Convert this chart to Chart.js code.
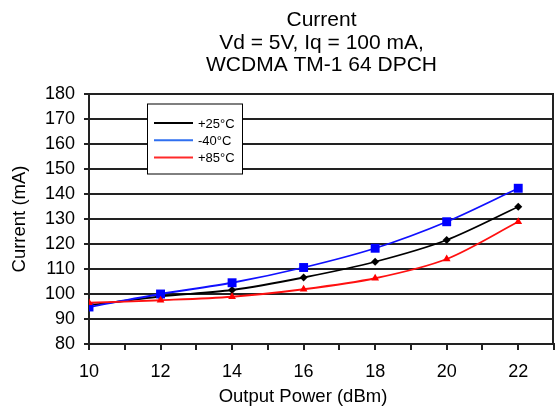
<!DOCTYPE html>
<html>
<head>
<meta charset="utf-8">
<script src="https://cdn.jsdelivr.net/npm/chart.js@4/dist/chart.umd.min.js"></script>
<style>
  body { margin: 0; background: #fff; }
  #wrap { width: 555px; height: 408px; }
</style>
</head>
<body>
<div id="wrap"><canvas id="chart" width="555" height="408"></canvas></div>
<script>
// data
const powerDbm = [10, 12, 14, 16, 18, 20, 22];
const current25 = [95.5, 99, 101.6, 106.6, 112.9, 121.6, 134.9];
const currentMinus40 = [94.8, 100, 104.5, 110.6, 118.3, 128.9, 142.3];
const current85 = [96.5, 97.5, 98.9, 101.9, 106.3, 114, 128.9];
const seriesLabels = ['+25°C', '-40°C', '+85°C'];
const titleLines = ['Current', 'Vd = 5V, Iq = 100 mA,', 'WCDMA TM-1 64 DPCH'];
const xTitle = 'Output Power (dBm)';
const yTitle = 'Current (mA)';

const FONT = "'Liberation Sans', Arial, sans-serif";
Chart.defaults.font.family = FONT;
Chart.defaults.color = '#000';

const toPoints = (ys) => powerDbm.map((x, i) => ({ x, y: ys[i] }));

// titles, right border and the boxed legend drawn by hand
const decorations = {
    id: 'decorations',
    afterDraw(chart) {
        const { ctx, chartArea } = chart;
        const cx = (chartArea.left + chartArea.right) / 2;
        ctx.save();

        // right border of plot
        ctx.strokeStyle = '#222';
        ctx.lineWidth = 2;
        ctx.beginPath();
        ctx.moveTo(chartArea.right - 1, chartArea.top);
        ctx.lineTo(chartArea.right - 1, chartArea.bottom);
        ctx.stroke();

        // title
        ctx.fillStyle = '#000';
        ctx.textAlign = 'center';
        ctx.textBaseline = 'alphabetic';
        ctx.font = '21px ' + FONT;
        titleLines.forEach((t, i) => ctx.fillText(t, cx, 26 + i * 22.5));

        // x axis title
        ctx.font = '18.5px ' + FONT;
        ctx.fillText(xTitle, 303, 402);

        // y axis title
        ctx.save();
        ctx.translate(25, (chartArea.top + chartArea.bottom) / 2);
        ctx.rotate(-Math.PI / 2);
        ctx.fillText(yTitle, 0, 0);
        ctx.restore();

        // legend box
        const lx = chartArea.left + 58, ly = chartArea.top + 9.5;
        ctx.fillStyle = '#fff';
        ctx.fillRect(lx, ly, 96, 71);
        ctx.strokeStyle = '#000';
        ctx.lineWidth = 1;
        ctx.strokeRect(lx + 0.5, ly + 0.5, 95, 70);
        ctx.font = '13px ' + FONT;
        ctx.textAlign = 'left';
        ctx.textBaseline = 'middle';
        chart.data.datasets.forEach((ds, i) => {
            const y = ly + 19.5 + i * 17.3;
            ctx.strokeStyle = ds.legendColor;
            ctx.lineWidth = 2;
            ctx.beginPath();
            ctx.moveTo(lx + 7, y);
            ctx.lineTo(lx + 46, y);
            ctx.stroke();
            ctx.fillStyle = '#000';
            ctx.fillText(ds.label, lx + 51, y + 1);
        });
        ctx.restore();
    }
};

new Chart(document.getElementById('chart'), {
    type: 'line',
    data: {
        datasets: [
            {
                label: seriesLabels[0],
                data: toPoints(current25),
                borderColor: '#000',
                backgroundColor: '#000',
                legendColor: '#000',
                pointStyle: 'rectRot',
                pointRadius: 4,
                order: 3
            },
            {
                label: seriesLabels[1],
                data: toPoints(currentMinus40),
                borderColor: '#1010ff',
                backgroundColor: '#0000ff',
                legendColor: '#2f6ff0',
                pointStyle: 'rect',
                pointRadius: 6.3,
                order: 2
            },
            {
                label: seriesLabels[2],
                data: toPoints(current85),
                borderColor: '#ff1010',
                backgroundColor: '#ff0000',
                legendColor: '#ff2a2a',
                pointStyle: 'triangle',
                pointRadius: 4.5,
                order: 1
            }
        ]
    },
    options: {
        responsive: false,
        animation: false,
        // no extra room for point overflow, plot runs to the right edge
        layout: { autoPadding: false, padding: { top: 94, right: 1, left: 0, bottom: 0 } },
        elements: {
            line: { borderWidth: 1.8, tension: 0.3 },
            point: { borderWidth: 0, hoverRadius: 6 }
        },
        plugins: {
            legend: { display: false },
            title: { display: false },
            tooltip: { enabled: false }
        },
        scales: {
            x: {
                type: 'linear',
                min: 10,
                max: 23,
                afterFit: (axis) => {
                    axis.height = 64;
                    axis.paddingLeft = 0;
                    axis.paddingRight = 0;
                },
                ticks: {
                    stepSize: 1,
                    autoSkip: false,
                    maxRotation: 0,
                    padding: 11,
                    font: { size: 18 },
                    color: '#000',
                    callback: (v) => (v % 2 === 0 && v <= 22 ? v : '')
                },
                grid: { drawOnChartArea: false, drawTicks: true, tickLength: 6, color: '#222', lineWidth: 2 },
                border: { color: '#222', width: 2 }
            },
            y: {
                min: 80,
                max: 180,
                afterFit: (axis) => {
                    axis.width = 89;
                    axis.paddingTop = 0;
                    axis.paddingBottom = 0;
                },
                ticks: {
                    stepSize: 10,
                    padding: 9,
                    font: { size: 18 },
                    color: '#000'
                },
                grid: { color: '#222', lineWidth: 2, tickLength: 5 },
                border: { color: '#222', width: 2 }
            }
        }
    },
    plugins: [decorations]
});
</script>
</body>
</html>
